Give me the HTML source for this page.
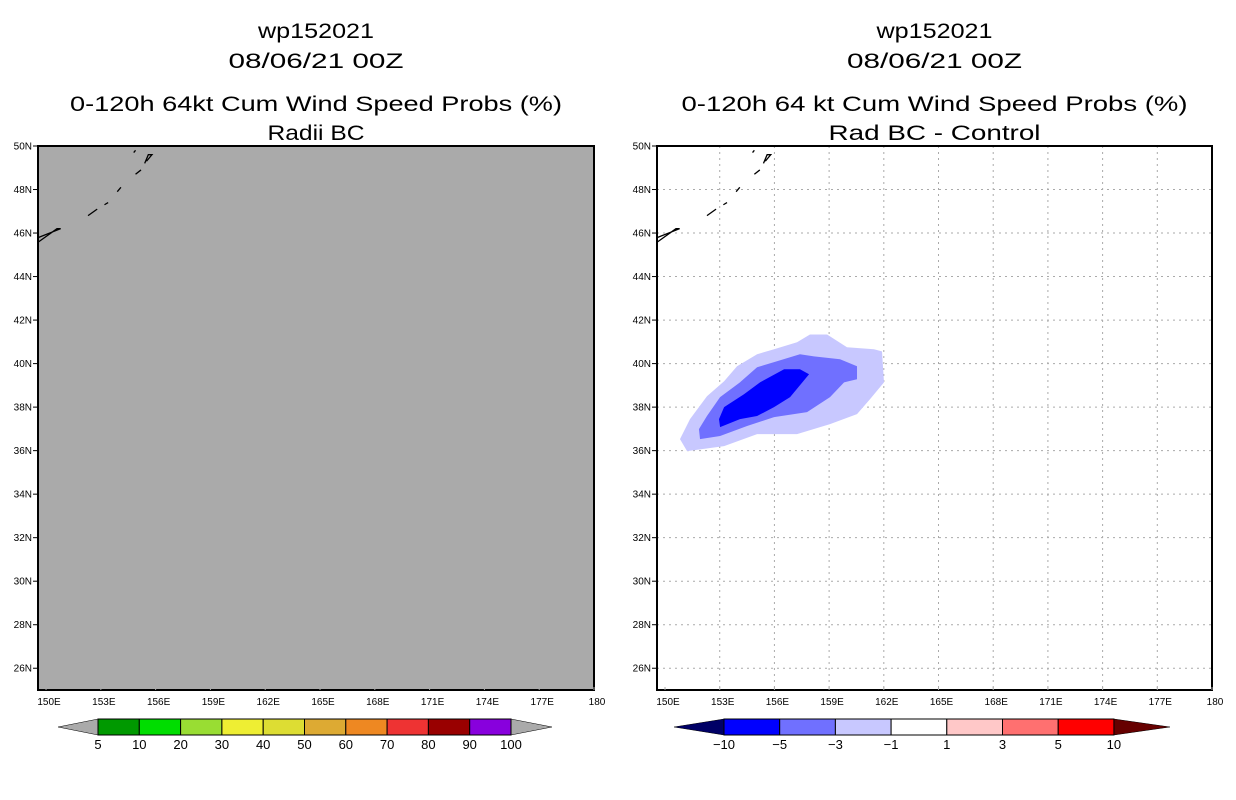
<!DOCTYPE html>
<html><head><meta charset="utf-8"><style>
body{margin:0;background:#fff;}
svg{display:block;font-family:"Liberation Sans",sans-serif;}
</style></head><body>
<svg id="c" width="1236" height="800"></svg>
<script>
const latTicks=[26,28,30,32,34,36,38,40,42,44,46,48,50];
const lonTicks=[150,153,156,159,162,165,168,171,174,177,180];
const lonLabels=["150E","153E","156E","159E","162E","165E","168E","171E","174E","177E","180"];
const probLevels=["5","10","20","30","40","50","60","70","80","90","100"];
const probColors=["#009900","#00dd00","#99dd33","#eeee33","#dddd33","#ddaa33","#ee8822","#ee3333","#990000","#8800dd"];
const diffLevels=["\u221210","\u22125","\u22123","\u22121","1","3","5","10"];
const diffColors=["#0000ff","#7070ff","#c8c8ff","#ffffff","#ffc8c8","#ff7070","#ff0000"];
const lightLon=[150.82,151.21,153.24,155.05,157.24,159.05,160.53,161.24,162.01,161.90,161.46,159.98,158.89,157.95,157.24,155.98,155.05,153.95,153.24,152.30,151.37];
const lightLat=[36.53,35.98,36.21,36.76,36.76,37.22,37.68,38.36,39.14,40.56,40.66,40.75,41.34,41.34,40.98,40.66,40.43,39.88,39.19,38.50,37.45];
const medLon=[151.92,153.02,154.50,155.98,157.79,159.05,159.82,160.53,160.53,159.60,158.17,157.40,156.14,155.05,154.11,153.02,152.30,151.86];
const medLat=[36.53,36.67,37.13,37.54,37.77,38.46,39.14,39.28,39.88,40.20,40.33,40.43,40.11,39.83,39.14,38.46,37.59,36.99];
const darkLon=[153.02,154.11,155.05,155.98,156.86,157.90,157.40,156.53,155.21,154.33,153.24,152.96];
const darkLat=[37.08,37.45,37.59,38.00,38.46,39.51,39.74,39.74,39.14,38.59,38.00,37.45];
const islands=[[[149.6,45.6],[150.6,46.2],[150.8,46.2],[149.6,45.8]],[[152.3,46.8],[152.8,47.1]],[[153.2,47.3],[153.4,47.4]],[[153.9,47.9],[154.1,48.1]],[[154.9,48.7],[155.2,48.9]],[[155.5,49.3],[155.8,49.6],[155.6,49.6],[155.4,49.2]],[[154.8,49.7],[154.9,49.8]]];
const NS="http://www.w3.org/2000/svg";
const svg=document.getElementById('c');
function mk(t,a,p){const e=document.createElementNS(NS,t);for(const k in a)e.setAttribute(k,a[k]);(p||svg).appendChild(e);return e;}
const H=[146,690],LAT=[25,50];
function yS(lat){return H[0]+(LAT[1]-lat)*(H[1]-H[0])/(LAT[1]-LAT[0]);}
function panel(x0,x1,gray,grid,titles,widths,name){
  const lon0=149.56,lon1=180;
  const xS=l=>x0+(l-lon0)*(x1-x0)/(lon1-lon0);
  const g=mk('g',{});
  
  
  const cx=(x0+x1)/2;
  titles.forEach((t,i)=>{const e=mk('text',{x:cx,y:[38,68,111,140][i],'text-anchor':'middle','font-size':21,fill:'#000',textLength:widths[i],lengthAdjust:'spacingAndGlyphs'},g);e.textContent=t;
    });
  mk('rect',{x:x0,y:H[0],width:x1-x0,height:H[1]-H[0],fill:gray?'#aaaaaa':'#fff'},g);
  if(grid){
    lonTicks.forEach(l=>{if(l>150&&l<180)mk('line',{x1:xS(l),x2:xS(l),y1:H[0],y2:H[1],stroke:'#aaa','stroke-dasharray':'2,4'},g);});
    latTicks.forEach(l=>{if(l<50)mk('line',{x1:x0,x2:x1,y1:yS(l),y2:yS(l),stroke:'#aaa','stroke-dasharray':'2,4'},g);});
    [[lightLon,lightLat,'#c8c8ff','contour-light'],[medLon,medLat,'#7070ff','contour-medium'],[darkLon,darkLat,'#0000ff','contour-dark']].forEach(([lo,la,c,n])=>{
      const p=mk('polygon',{points:lo.map((v,i)=>xS(v)+','+yS(la[i])).join(' '),fill:c},g);
      });
  }
  islands.forEach(s=>mk('polyline',{points:s.map(q=>xS(q[0])+','+yS(q[1])).join(' '),fill:'none',stroke:'#000','stroke-width':1.3},g));
  mk('rect',{x:x0,y:H[0],width:x1-x0,height:H[1]-H[0],fill:'none',stroke:'#000','stroke-width':2},g);
  latTicks.forEach(l=>{mk('line',{x1:x0-5,x2:x0,y1:yS(l),y2:yS(l),stroke:'#000'},g);
    const t=mk('text',{x:x0-6,y:yS(l)+3.5,'text-anchor':'end','font-size':10},g);t.textContent=l+'N';});
  lonTicks.forEach((l,i)=>{mk('line',{x1:xS(l),x2:xS(l),y1:H[1]-3,y2:H[1],stroke:'#aaa'},g);
    const t=mk('text',{x:xS(l)+3,y:705,'text-anchor':'middle','font-size':10},g);t.textContent=lonLabels[i];});
  return xS;
}
panel(38,594,true,false,["wp152021","08/06/21 00Z","0-120h 64kt Cum Wind Speed Probs (%)","Radii BC"],[116,175,492,97],'left-panel');
panel(657,1212,false,true,["wp152021","08/06/21 00Z","0-120h 64 kt Cum Wind Speed Probs (%)","Rad BC - Control"],[116,175,506,212],'right-panel');
function bar(bx0,bw,colors,labels,leftTip,rightTip,tipL,tipR,name){
  const g=mk('g',{});
  const y0=719,y1=735,ym=727,n=colors.length;
  mk('polygon',{points:`${leftTip},${ym} ${bx0},${y0} ${bx0},${y1}`,fill:tipL,stroke:'#000','stroke-width':0.5},g);
  mk('polygon',{points:`${bx0+n*bw},${y0} ${rightTip},${ym} ${bx0+n*bw},${y1}`,fill:tipR,stroke:'#000','stroke-width':0.5},g);
  colors.forEach((c,i)=>mk('rect',{x:bx0+i*bw,y:y0,width:bw,height:y1-y0,fill:c,stroke:'#000','stroke-width':1},g));
  labels.forEach((l,i)=>{const t=mk('text',{x:bx0+i*bw,y:749,'text-anchor':'middle','font-size':13},g);t.textContent=l;});
}
bar(98,41.3,probColors,probLevels,58,552,'#aaaaaa','#aaaaaa','prob-colorbar');
bar(724,55.7,diffColors,diffLevels,674,1170,'#000066','#660000','diff-colorbar');
</script>
</body></html>
